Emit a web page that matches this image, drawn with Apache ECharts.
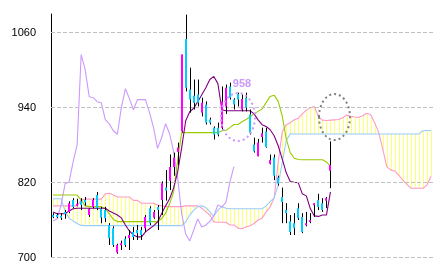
<!DOCTYPE html>
<html><head><meta charset="utf-8">
<script src="https://cdn.jsdelivr.net/npm/echarts@6/dist/echarts.min.js"></script>
<style>html,body{margin:0;padding:0;background:#fff}#c{width:433px;height:271px}</style>
</head><body><div id="c"></div>
<script>
// ---- data ----
const tickLabels = [700, 820, 940, 1060];

const candleOpen = [
768,768,767,773,773,792,784,790,792,768,
781,800,778,776,752,747,708,721,730,731,
741,744,744,747,779,764,781,792,812,823,
845,869,902,1050,969,959,961,932,945,921,
908,908,908,942,974,953,962,937,956,929,
881,862,893,902,850,860,828,797,776,758,
755,779,765,752,757,784,792,787,791,839];
const candleHigh = [
771,771,771,776,790,795,794,795,797,779,
795,805,781,781,755,750,722,727,734,744,
749,752,749,768,782,776,784,822,840,865,
868,884,1025,1089,1004,985,985,956,950,924,
910,916,974,977,980,955,964,961,964,937,
892,890,908,908,865,865,831,812,787,768,
771,787,771,773,771,787,802,795,797,886];
const candleLow = [
763,763,760,762,771,779,782,776,783,765,
779,776,755,757,720,717,706,712,717,712,
728,728,728,741,752,762,744,768,791,808,
831,848,900,966,932,937,942,926,913,913,
889,894,905,930,953,937,942,934,934,897,
868,862,884,876,849,824,815,755,755,736,
736,760,739,750,755,765,776,773,779,811];
const candleClose = [
765,766,766,770,787,781,786,784,788,778,
792,779,764,763,731,720,720,723,720,736,
733,739,736,765,755,773,776,819,807,845,
860,876,1025,972,953,948,948,948,916,916,
897,897,950,972,956,945,953,954,940,900,
870,884,899,877,856,831,818,789,771,741,
747,763,741,755,760,787,781,776,795,848];

const tenkan = [
773,770,770,770,774.6,778,779,779,779,779,
779,779,779,779,774.6,771.4,768,763.4,752,742.5,
736,733,733,741,746,750.6,757,770,782.7,794,
811.5,837,876,919,933.5,939,949.6,960.8,972,985,
990,978.5,936.7,935,935,935,935,935,935,935,
930,920.5,912.7,910,904.6,895,879,858,835.6,821.7,
820.4,819.6,802,798.7,778,766.6,765.8,768,768,805];
const kijun = [
800,800,800,800,800,800,800,792,782.7,781.5,
781.5,781.5,781.5,778,770,761,757.5,757.5,757.5,757.5,
757.5,757.5,757.5,757.5,757.5,757.5,757,762,771,786,
805,856,900,900,900,900,900,900,900,900,
900,900,903,903.5,908,913,913,917.5,921,925.5,
930,934,938,948,958,960,950,927,890,868,
859,857,856.5,856.5,856.5,856.5,856.5,856.5,853,846];
const chikou = [
758.6,762,784,818,821,853,880.5,1025,1001,957.6,
956,949.6,948,920.7,914,903,897.4,940,970.4,954.4,
936.7,952.8,952.8,952.8,931.9,907.9,874.8,891.8,914.3,898.2,
869.3,827.6,769.8,737.7,726.5,744,761.8,749,752,757.8,
766.6,784.3,781,788.3,821,845.7];
const spanPink = [
782.7,782.7,782.7,782.7,782.7,782.7,782.7,792,793.5,793.5,
793.5,793.5,793.5,802,803,800,797,797,797,797,
791.5,791.5,787,787,787,787,784,782.7,781.5,781.5,
781.5,781.5,781.5,782.7,782.7,782.7,782.7,779,773,768,
757,756.5,756.5,756.5,752,752,747,746,749,751,
754.5,760,763,773,781,795.5,853,901,912.7,916,
920.7,923,930,936,940,942,925.5,920,919.5,920,
920.5,921,923.5,928,926,925,924.5,927,931,928.5,
916,900,874,845.6,840,838.6,831.5,824,817,811,
811,811,811,816,830];
const spanBlue = [
794,794,794,774.6,763,758.6,754.6,751.4,751,751,
751,751,751,751,751,751,751,751,751,751,
751,751,751,751,751,751,751,751,751,751,
751,751,751,757,768,776,781.5,782.7,780,773,
766,776,781.5,779,778,778,778,778,778,778,
778,778,778,782.7,789.5,795.5,816,851.7,887,898,
897.7,897.7,897.7,897.7,897.7,897.7,897.7,897.7,897.7,897.7,
897.7,897.7,897.7,897.7,897.7,897.7,897.7,897.7,897.7,897.7,
897.7,897.7,897.7,897.7,897.7,897.7,897.7,897.7,897.7,897.7,
897.7,897.7,903,903.5,903.5];

// annotations (data coordinates: category index, price)
const noteText = {text: '958', cat: 47.1, value: 978};
const noteCircles = [
  {cat: 46.3, value: 925, rx: 17, ry: 24, color: '#cc99ff'},
  {cat: 69.8, value: 925, rx: 15.5, ry: 23, color: '#808080'}
];

// ---- chart ----
const cats = spanPink.map((_, k) => String(k));
const candleData = candleOpen.map((o, i) => [i, o, candleHigh[i], candleLow[i], candleClose[i]]);
const hatchData = spanPink.map((p, k) => [k, p, spanBlue[k]]);

const chart = echarts.init(document.getElementById('c'), null, {renderer: 'canvas'});

function renderCandle(params, api) {
  const i = api.value(0);
  const o = api.value(1), h = api.value(2), l = api.value(3), c = api.value(4);
  const pO = api.coord([i, o]), pC = api.coord([i, c]);
  const pH = api.coord([i, h]), pL = api.coord([i, l]);
  const x = Math.round(pO[0]);
  const top = Math.min(pO[1], pC[1]);
  const hgt = Math.max(Math.abs(pO[1] - pC[1]), 2);
  return {type: 'group', children: [
    {type: 'line', shape: {x1: x + 0.5, y1: pH[1], x2: x + 0.5, y2: pL[1]}, style: {stroke: '#000', lineWidth: 1}},
    {type: 'rect', shape: {x: x - 1, y: top, width: 2, height: hgt}, style: {fill: c >= o ? '#ff00ff' : '#00ccff'}}
  ]};
}
function renderHatch(params, api) {
  const k = api.value(0);
  const a = api.coord([k, api.value(1)]), b = api.coord([k, api.value(2)]);
  const x = Math.round(a[0]) + 0.5;
  return {type: 'line', shape: {x1: x, y1: a[1], x2: x, y2: b[1]}, style: {stroke: '#ffff70', lineWidth: 1}};
}
function lineSeries(data, color, z) {
  return {type: 'line', data: data, symbol: 'none', showSymbol: false, z: z,
    lineStyle: {color: color, width: 1.1}, itemStyle: {color: color}, silent: true, animation: false};
}

const pinkSeries = lineSeries(spanPink, '#ff99cc', 2);
pinkSeries.markLine = {
  silent: true, symbol: ['none', 'none'], label: {show: false},
  lineStyle: {color: '#c0c0c0', type: [4, 2], width: 1},
  data: tickLabels.map(v => ({yAxis: v}))
};

chart.setOption({
  animation: false,
  grid: {left: 51, right: 0, top: 14, bottom: 13.5},
  xAxis: {type: 'category', data: cats, boundaryGap: true, show: false},
  yAxis: {
    type: 'value', min: 700, max: 1090, interval: 120,
    axisLine: {show: true, lineStyle: {color: '#000', width: 1}},
    axisTick: {show: false},
    splitLine: {show: false},
    axisLabel: {color: '#000', fontSize: 11, fontFamily: 'Liberation Sans', margin: 15,
      showMaxLabel: false,
      formatter: v => tickLabels.includes(v) ? String(v) : ''}
  },
  series: [
    {type: 'custom', data: hatchData, renderItem: renderHatch, z: 1, silent: true, encode: {x: 0, y: [1, 2]}},
    pinkSeries,
    lineSeries(spanBlue, '#99ccff', 2),
    lineSeries(chikou, '#cc99ff', 3),
    lineSeries(kijun, '#99cc00', 3),
    lineSeries(tenkan, '#800080', 3),
    {type: 'custom', data: candleData, renderItem: renderCandle, z: 5, silent: true, encode: {x: 0, y: [1, 2, 3, 4]}}
  ]
});

const graphics = noteCircles.map(c => {
  const p = chart.convertToPixel({gridIndex: 0}, [c.cat, c.value]);
  return {type: 'ellipse', shape: {cx: p[0], cy: p[1], rx: c.rx, ry: c.ry}, silent: true, z: 10,
    style: {fill: null, stroke: c.color, lineWidth: 2, lineDash: [2, 3]}};
});
const pt = chart.convertToPixel({gridIndex: 0}, [noteText.cat, noteText.value]);
graphics.push({type: 'text', x: pt[0], y: pt[1], silent: true, z: 10,
  style: {text: noteText.text, fill: '#cc99ff', font: 'bold 11px "Liberation Sans"', align: 'center', verticalAlign: 'middle'}});
chart.setOption({graphic: graphics});
</script>
</body></html>
